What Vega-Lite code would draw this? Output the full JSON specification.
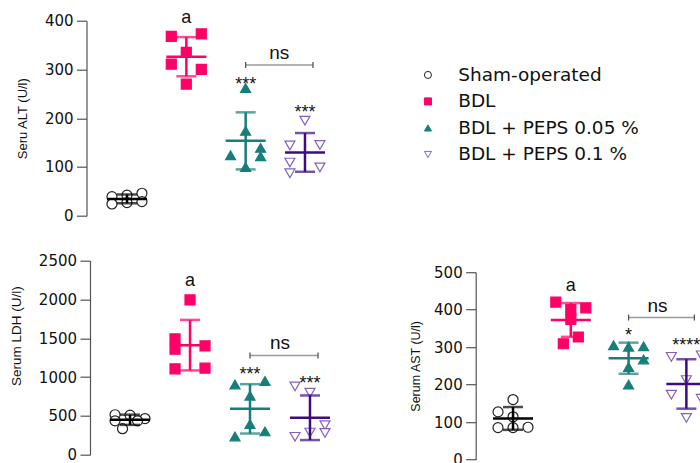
{
  "$schema": "https://vega.github.io/schema/vega-lite/v6.json",
  "padding": {"left": 9, "top": 8.7, "right": 0, "bottom": 0},
  "spacing": 58.7,
  "resolve": {"scale": {"shape": "independent", "fill": "independent", "stroke": "independent", "color": "independent", "xOffset": "independent"}, "legend": {"shape": "independent", "fill": "independent", "stroke": "independent"}},
  "datasets": {
    "pts": [
      {"panel": "ALT", "group": "Sham-operated", "col": -1, "value": 39},
      {"panel": "ALT", "group": "Sham-operated", "col": -1, "value": 24},
      {"panel": "ALT", "group": "Sham-operated", "col": 0, "value": 42},
      {"panel": "ALT", "group": "Sham-operated", "col": 0, "value": 27},
      {"panel": "ALT", "group": "Sham-operated", "col": 1, "value": 46},
      {"panel": "ALT", "group": "Sham-operated", "col": 1, "value": 29},
      {"panel": "ALT", "group": "BDL", "col": -1, "value": 368},
      {"panel": "ALT", "group": "BDL", "col": 1, "value": 373},
      {"panel": "ALT", "group": "BDL", "col": 0, "value": 335},
      {"panel": "ALT", "group": "BDL", "col": -1, "value": 311},
      {"panel": "ALT", "group": "BDL", "col": 1, "value": 300},
      {"panel": "ALT", "group": "BDL", "col": 0, "value": 270},
      {"panel": "ALT", "group": "BDL + PEPS 0.05 %", "col": 0, "value": 262},
      {"panel": "ALT", "group": "BDL + PEPS 0.05 %", "col": 0, "value": 174},
      {"panel": "ALT", "group": "BDL + PEPS 0.05 %", "col": -1, "value": 124},
      {"panel": "ALT", "group": "BDL + PEPS 0.05 %", "col": 1, "value": 139},
      {"panel": "ALT", "group": "BDL + PEPS 0.05 %", "col": 1, "value": 122},
      {"panel": "ALT", "group": "BDL + PEPS 0.05 %", "col": 0, "value": 100},
      {"panel": "ALT", "group": "BDL + PEPS 0.1 %", "col": 0, "value": 195},
      {"panel": "ALT", "group": "BDL + PEPS 0.1 %", "col": -1, "value": 144},
      {"panel": "ALT", "group": "BDL + PEPS 0.1 %", "col": 1, "value": 145},
      {"panel": "ALT", "group": "BDL + PEPS 0.1 %", "col": -1, "value": 109},
      {"panel": "ALT", "group": "BDL + PEPS 0.1 %", "col": 1, "value": 99},
      {"panel": "ALT", "group": "BDL + PEPS 0.1 %", "col": -1, "value": 87},
      {"panel": "LDH", "group": "Sham-operated", "col": -1, "value": 515},
      {"panel": "LDH", "group": "Sham-operated", "col": 0, "value": 510},
      {"panel": "LDH", "group": "Sham-operated", "col": 1, "value": 466},
      {"panel": "LDH", "group": "Sham-operated", "col": 0.5, "value": 437},
      {"panel": "LDH", "group": "Sham-operated", "col": -0.5, "value": 335},
      {"panel": "LDH", "group": "Sham-operated", "col": -1, "value": 437},
      {"panel": "LDH", "group": "BDL", "col": 0, "value": 1994},
      {"panel": "LDH", "group": "BDL", "col": -1, "value": 1492},
      {"panel": "LDH", "group": "BDL", "col": -1, "value": 1360},
      {"panel": "LDH", "group": "BDL", "col": 1, "value": 1402},
      {"panel": "LDH", "group": "BDL", "col": -1, "value": 1106},
      {"panel": "LDH", "group": "BDL", "col": 1, "value": 1115},
      {"panel": "LDH", "group": "BDL + PEPS 0.05 %", "col": -1, "value": 905},
      {"panel": "LDH", "group": "BDL + PEPS 0.05 %", "col": 1, "value": 950},
      {"panel": "LDH", "group": "BDL + PEPS 0.05 %", "col": 0, "value": 760},
      {"panel": "LDH", "group": "BDL + PEPS 0.05 %", "col": 0, "value": 395},
      {"panel": "LDH", "group": "BDL + PEPS 0.05 %", "col": -1, "value": 235},
      {"panel": "LDH", "group": "BDL + PEPS 0.05 %", "col": 1, "value": 300},
      {"panel": "LDH", "group": "BDL + PEPS 0.1 %", "col": -1, "value": 880},
      {"panel": "LDH", "group": "BDL + PEPS 0.1 %", "col": 0, "value": 800},
      {"panel": "LDH", "group": "BDL + PEPS 0.1 %", "col": 1, "value": 380},
      {"panel": "LDH", "group": "BDL + PEPS 0.1 %", "col": 1, "value": 280},
      {"panel": "LDH", "group": "BDL + PEPS 0.1 %", "col": 0, "value": 285},
      {"panel": "LDH", "group": "BDL + PEPS 0.1 %", "col": -1, "value": 230},
      {"panel": "AST", "group": "Sham-operated", "col": 0, "value": 160},
      {"panel": "AST", "group": "Sham-operated", "col": -1, "value": 127},
      {"panel": "AST", "group": "Sham-operated", "col": 0, "value": 114},
      {"panel": "AST", "group": "Sham-operated", "col": -1, "value": 85},
      {"panel": "AST", "group": "Sham-operated", "col": 0, "value": 85},
      {"panel": "AST", "group": "Sham-operated", "col": 1, "value": 86},
      {"panel": "AST", "group": "BDL", "col": -1, "value": 420},
      {"panel": "AST", "group": "BDL", "col": 0, "value": 400},
      {"panel": "AST", "group": "BDL", "col": 1, "value": 405},
      {"panel": "AST", "group": "BDL", "col": 0, "value": 374},
      {"panel": "AST", "group": "BDL", "col": 0.5, "value": 327},
      {"panel": "AST", "group": "BDL", "col": -0.5, "value": 309},
      {"panel": "AST", "group": "BDL + PEPS 0.05 %", "col": -1, "value": 305},
      {"panel": "AST", "group": "BDL + PEPS 0.05 %", "col": 0, "value": 301},
      {"panel": "AST", "group": "BDL + PEPS 0.05 %", "col": 1, "value": 302},
      {"panel": "AST", "group": "BDL + PEPS 0.05 %", "col": 1, "value": 267},
      {"panel": "AST", "group": "BDL + PEPS 0.05 %", "col": 0, "value": 247},
      {"panel": "AST", "group": "BDL + PEPS 0.05 %", "col": 0, "value": 200},
      {"panel": "AST", "group": "BDL + PEPS 0.1 %", "col": -1, "value": 274},
      {"panel": "AST", "group": "BDL + PEPS 0.1 %", "col": 1, "value": 278},
      {"panel": "AST", "group": "BDL + PEPS 0.1 %", "col": 0, "value": 212},
      {"panel": "AST", "group": "BDL + PEPS 0.1 %", "col": -1, "value": 173},
      {"panel": "AST", "group": "BDL + PEPS 0.1 %", "col": 1, "value": 162},
      {"panel": "AST", "group": "BDL + PEPS 0.1 %", "col": 0, "value": 111}
    ],
    "ann": [
      {"panel": "ALT", "kind": "letter", "group": "BDL", "value": 403, "label": "a"},
      {"panel": "ALT", "kind": "stars", "group": "BDL + PEPS 0.05 %", "value": 278, "label": "***"},
      {"panel": "ALT", "kind": "stars", "group": "BDL + PEPS 0.1 %", "value": 220, "label": "***"},
      {"panel": "ALT", "kind": "ns", "group": "BDL + PEPS 0.05 %", "value": 330, "label": "ns"},
      {"panel": "ALT", "kind": "bracket", "group": "BDL + PEPS 0.05 %", "group2": "BDL + PEPS 0.1 %", "value": 309},
      {"panel": "LDH", "kind": "letter", "group": "BDL", "value": 2217, "label": "a"},
      {"panel": "LDH", "kind": "stars", "group": "BDL + PEPS 0.05 %", "value": 1081, "label": "***"},
      {"panel": "LDH", "kind": "stars", "group": "BDL + PEPS 0.1 %", "value": 965, "label": "***"},
      {"panel": "LDH", "kind": "ns", "group": "BDL + PEPS 0.05 %", "value": 1415, "label": "ns"},
      {"panel": "LDH", "kind": "bracket", "group": "BDL + PEPS 0.05 %", "group2": "BDL + PEPS 0.1 %", "value": 1278},
      {"panel": "AST", "kind": "letter", "group": "BDL", "value": 458, "label": "a"},
      {"panel": "AST", "kind": "stars", "group": "BDL + PEPS 0.05 %", "value": 342, "label": "*"},
      {"panel": "AST", "kind": "stars", "group": "BDL + PEPS 0.1 %", "value": 316, "label": "****"},
      {"panel": "AST", "kind": "ns", "group": "BDL + PEPS 0.05 %", "value": 407, "label": "ns"},
      {"panel": "AST", "kind": "bracket", "group": "BDL + PEPS 0.05 %", "group2": "BDL + PEPS 0.1 %", "value": 379}
    ]
  },
  "hconcat": [
    {
      "bounds": "flush",
      "spacing": 45,
      "resolve": {"scale": {"shape": "independent", "fill": "independent", "stroke": "independent", "color": "independent", "xOffset": "independent"}, "legend": {"shape": "independent", "fill": "independent", "stroke": "independent"}},
      "vconcat": [
        {
          "width": 252,
          "height": 195,
          "layer": [
            {
              "data": {"name": "pts"},
              "transform": [{"filter": "datum.panel === 'ALT'"}],
              "mark": {"type": "point", "opacity": 1, "strokeWidth": 1.2, "size": 100},
              "encoding": {
                "x": {"field": "group", "type": "nominal", "scale": {"domain": ["Sham-operated", "BDL", "BDL + PEPS 0.05 %", "BDL + PEPS 0.1 %"], "paddingInner": 0, "paddingOuter": 0.124}, "axis": null},
                "xOffset": {"field": "col", "type": "ordinal", "scale": {"type": "point", "domain": [-1, -0.5, 0, 0.5, 1], "range": [14.6, 44.6], "padding": 0}},
                "y": {"field": "value", "type": "quantitative", "title": "Seru ALT (U/l)", "scale": {"domain": [0, 400], "nice": false}, "axis": {"values": [0, 100, 200, 300, 400], "tickCount": 5, "format": "d", "offset": 3.5, "titlePadding": 15, "titleFontSize": 13}},
                "shape": {"field": "group", "type": "nominal", "legend": null, "scale": {"domain": ["Sham-operated", "BDL", "BDL + PEPS 0.05 %", "BDL + PEPS 0.1 %"], "range": ["circle", "square", "triangle-up", "triangle-down"]}},
                "fill": {"field": "group", "type": "nominal", "legend": null, "scale": {"domain": ["Sham-operated", "BDL", "BDL + PEPS 0.05 %", "BDL + PEPS 0.1 %"], "range": ["#ffffff", "#FF0066", "#177E7A", "#ffffff"]}},
                "stroke": {"field": "group", "type": "nominal", "legend": null, "scale": {"domain": ["Sham-operated", "BDL", "BDL + PEPS 0.05 %", "BDL + PEPS 0.1 %"], "range": ["#222222", "#FF0066", "#177E7A", "#8460C4"]}}
              }
            },
            {
              "data": {"name": "pts"},
              "transform": [{"filter": "datum.panel === 'ALT'"}],
              "mark": {"type": "errorbar", "extent": "stdev", "thickness": 2.5, "ticks": {"size": 20}},
              "encoding": {
                "x": {"field": "group", "type": "nominal", "axis": null},
                "y": {"field": "value", "type": "quantitative", "title": "Seru ALT (U/l)", "axis": {"values": [0, 100, 200, 300, 400], "tickCount": 5, "format": "d", "offset": 3.5, "titlePadding": 15, "titleFontSize": 13}},
                "color": {"field": "group", "type": "nominal", "legend": null, "scale": {"domain": ["Sham-operated", "BDL", "BDL + PEPS 0.05 %", "BDL + PEPS 0.1 %"], "range": ["#000000", "#FF0066", "#177E7A", "#3D0C7E"]}}
              }
            },
            {
              "data": {"name": "pts"},
              "transform": [{"filter": "datum.panel === 'ALT'"}],
              "mark": {"type": "tick", "thickness": 2.5, "size": 40, "opacity": 1},
              "encoding": {
                "x": {"field": "group", "type": "nominal", "axis": null},
                "y": {"aggregate": "mean", "field": "value", "type": "quantitative", "title": "Seru ALT (U/l)", "axis": {"values": [0, 100, 200, 300, 400], "tickCount": 5, "format": "d", "offset": 3.5, "titlePadding": 15, "titleFontSize": 13}},
                "color": {"field": "group", "type": "nominal", "legend": null}
              }
            },
            {
              "data": {"name": "ann"},
              "transform": [{"filter": "datum.panel === 'ALT' && datum.kind === 'bracket'"}],
              "mark": {"type": "rule", "color": "#9a9a9a", "strokeWidth": 1.5, "x2Offset": 8},
              "encoding": {
                "x": {"field": "group", "type": "nominal", "bandPosition": 0.5, "axis": null},
                "x2": {"field": "group2", "bandPosition": 0.5},
                "y": {"field": "value", "type": "quantitative", "title": "Seru ALT (U/l)", "axis": {"values": [0, 100, 200, 300, 400], "tickCount": 5, "format": "d", "offset": 3.5, "titlePadding": 15, "titleFontSize": 13}}
              }
            },
            {
              "data": {"name": "ann"},
              "transform": [{"filter": "datum.panel === 'ALT' && datum.kind === 'bracket'"}],
              "mark": {"type": "tick", "orient": "vertical", "color": "#555555", "thickness": 1.3, "size": 6, "opacity": 1},
              "encoding": {
                "x": {"field": "group", "type": "nominal", "axis": null},
                "y": {"field": "value", "type": "quantitative", "title": "Seru ALT (U/l)", "axis": {"values": [0, 100, 200, 300, 400], "tickCount": 5, "format": "d", "offset": 3.5, "titlePadding": 15, "titleFontSize": 13}}
              }
            },
            {
              "data": {"name": "ann"},
              "transform": [{"filter": "datum.panel === 'ALT' && datum.kind === 'bracket'"}],
              "mark": {"type": "tick", "orient": "vertical", "color": "#555555", "thickness": 1.3, "size": 6, "opacity": 1, "xOffset": 8},
              "encoding": {
                "x": {"field": "group2", "type": "nominal", "axis": null},
                "y": {"field": "value", "type": "quantitative", "title": "Seru ALT (U/l)", "axis": {"values": [0, 100, 200, 300, 400], "tickCount": 5, "format": "d", "offset": 3.5, "titlePadding": 15, "titleFontSize": 13}}
              }
            },
            {
              "data": {"name": "ann"},
              "transform": [{"filter": "datum.panel === 'ALT' && datum.kind === 'letter'"}],
              "mark": {"type": "text", "font": "Liberation Sans", "fontSize": 18, "baseline": "middle", "dy": -1.5, "color": "#111111"},
              "encoding": {
                "x": {"field": "group", "type": "nominal", "axis": null},
                "y": {"field": "value", "type": "quantitative", "title": "Seru ALT (U/l)", "axis": {"values": [0, 100, 200, 300, 400], "tickCount": 5, "format": "d", "offset": 3.5, "titlePadding": 15, "titleFontSize": 13}},
                "text": {"field": "label"}
              }
            },
            {
              "data": {"name": "ann"},
              "transform": [{"filter": "datum.panel === 'ALT' && datum.kind === 'ns'"}],
              "mark": {"type": "text", "font": "Liberation Sans", "fontSize": 19, "baseline": "middle", "dy": -1.5, "dx": 4, "color": "#111111"},
              "encoding": {
                "x": {"field": "group", "type": "nominal", "bandPosition": 1, "axis": null},
                "y": {"field": "value", "type": "quantitative", "title": "Seru ALT (U/l)", "axis": {"values": [0, 100, 200, 300, 400], "tickCount": 5, "format": "d", "offset": 3.5, "titlePadding": 15, "titleFontSize": 13}},
                "text": {"field": "label"}
              }
            },
            {
              "data": {"name": "ann"},
              "transform": [{"filter": "datum.panel === 'ALT' && datum.kind === 'stars'"}],
              "mark": {"type": "text", "font": "Liberation Sans", "fontSize": 18, "baseline": "middle", "dy": 4.5, "color": "#111111"},
              "encoding": {
                "x": {"field": "group", "type": "nominal", "axis": null},
                "y": {"field": "value", "type": "quantitative", "title": "Seru ALT (U/l)", "axis": {"values": [0, 100, 200, 300, 400], "tickCount": 5, "format": "d", "offset": 3.5, "titlePadding": 15, "titleFontSize": 13}},
                "text": {"field": "label"}
              }
            }
          ]
        },
        {
          "width": 260,
          "height": 194,
          "layer": [
            {
              "data": {"name": "pts"},
              "transform": [{"filter": "datum.panel === 'LDH'"}],
              "mark": {"type": "point", "opacity": 1, "strokeWidth": 1.2, "size": 100},
              "encoding": {
                "x": {"field": "group", "type": "nominal", "scale": {"domain": ["Sham-operated", "BDL", "BDL + PEPS 0.05 %", "BDL + PEPS 0.1 %"], "paddingInner": 0, "paddingOuter": 0.167}, "axis": null},
                "xOffset": {"field": "col", "type": "ordinal", "scale": {"type": "point", "domain": [-1, -0.5, 0, 0.5, 1], "range": [15, 45], "padding": 0}},
                "y": {"field": "value", "type": "quantitative", "title": "Serum LDH (U/l)", "scale": {"domain": [0, 2500], "nice": false}, "axis": {"values": [0, 500, 1000, 1500, 2000, 2500], "tickCount": 6, "format": "d", "titlePadding": 15, "titleFontSize": 13.5, "titleY": 75}},
                "shape": {"field": "group", "type": "nominal", "legend": null, "scale": {"domain": ["Sham-operated", "BDL", "BDL + PEPS 0.05 %", "BDL + PEPS 0.1 %"], "range": ["circle", "square", "triangle-up", "triangle-down"]}},
                "fill": {"field": "group", "type": "nominal", "legend": null, "scale": {"domain": ["Sham-operated", "BDL", "BDL + PEPS 0.05 %", "BDL + PEPS 0.1 %"], "range": ["#ffffff", "#FF0066", "#177E7A", "#ffffff"]}},
                "stroke": {"field": "group", "type": "nominal", "legend": null, "scale": {"domain": ["Sham-operated", "BDL", "BDL + PEPS 0.05 %", "BDL + PEPS 0.1 %"], "range": ["#222222", "#FF0066", "#177E7A", "#8460C4"]}}
              }
            },
            {
              "data": {"name": "pts"},
              "transform": [{"filter": "datum.panel === 'LDH'"}],
              "mark": {"type": "errorbar", "extent": "stdev", "thickness": 2.5, "ticks": {"size": 20}},
              "encoding": {
                "x": {"field": "group", "type": "nominal", "axis": null},
                "y": {"field": "value", "type": "quantitative", "title": "Serum LDH (U/l)", "axis": {"values": [0, 500, 1000, 1500, 2000, 2500], "tickCount": 6, "format": "d", "titlePadding": 15, "titleFontSize": 13.5, "titleY": 75}},
                "color": {"field": "group", "type": "nominal", "legend": null, "scale": {"domain": ["Sham-operated", "BDL", "BDL + PEPS 0.05 %", "BDL + PEPS 0.1 %"], "range": ["#000000", "#FF0066", "#177E7A", "#3D0C7E"]}}
              }
            },
            {
              "data": {"name": "pts"},
              "transform": [{"filter": "datum.panel === 'LDH'"}],
              "mark": {"type": "tick", "thickness": 2.5, "size": 40, "opacity": 1},
              "encoding": {
                "x": {"field": "group", "type": "nominal", "axis": null},
                "y": {"aggregate": "mean", "field": "value", "type": "quantitative", "title": "Serum LDH (U/l)", "axis": {"values": [0, 500, 1000, 1500, 2000, 2500], "tickCount": 6, "format": "d", "titlePadding": 15, "titleFontSize": 13.5, "titleY": 75}},
                "color": {"field": "group", "type": "nominal", "legend": null}
              }
            },
            {
              "data": {"name": "ann"},
              "transform": [{"filter": "datum.panel === 'LDH' && datum.kind === 'bracket'"}],
              "mark": {"type": "rule", "color": "#9a9a9a", "strokeWidth": 1.5, "x2Offset": 8},
              "encoding": {
                "x": {"field": "group", "type": "nominal", "bandPosition": 0.5, "axis": null},
                "x2": {"field": "group2", "bandPosition": 0.5},
                "y": {"field": "value", "type": "quantitative", "title": "Serum LDH (U/l)", "axis": {"values": [0, 500, 1000, 1500, 2000, 2500], "tickCount": 6, "format": "d", "titlePadding": 15, "titleFontSize": 13.5, "titleY": 75}}
              }
            },
            {
              "data": {"name": "ann"},
              "transform": [{"filter": "datum.panel === 'LDH' && datum.kind === 'bracket'"}],
              "mark": {"type": "tick", "orient": "vertical", "color": "#555555", "thickness": 1.3, "size": 6, "opacity": 1},
              "encoding": {
                "x": {"field": "group", "type": "nominal", "axis": null},
                "y": {"field": "value", "type": "quantitative", "title": "Serum LDH (U/l)", "axis": {"values": [0, 500, 1000, 1500, 2000, 2500], "tickCount": 6, "format": "d", "titlePadding": 15, "titleFontSize": 13.5, "titleY": 75}}
              }
            },
            {
              "data": {"name": "ann"},
              "transform": [{"filter": "datum.panel === 'LDH' && datum.kind === 'bracket'"}],
              "mark": {"type": "tick", "orient": "vertical", "color": "#555555", "thickness": 1.3, "size": 6, "opacity": 1, "xOffset": 8},
              "encoding": {
                "x": {"field": "group2", "type": "nominal", "axis": null},
                "y": {"field": "value", "type": "quantitative", "title": "Serum LDH (U/l)", "axis": {"values": [0, 500, 1000, 1500, 2000, 2500], "tickCount": 6, "format": "d", "titlePadding": 15, "titleFontSize": 13.5, "titleY": 75}}
              }
            },
            {
              "data": {"name": "ann"},
              "transform": [{"filter": "datum.panel === 'LDH' && datum.kind === 'letter'"}],
              "mark": {"type": "text", "font": "Liberation Sans", "fontSize": 18, "baseline": "middle", "dy": -1.5, "color": "#111111"},
              "encoding": {
                "x": {"field": "group", "type": "nominal", "axis": null},
                "y": {"field": "value", "type": "quantitative", "title": "Serum LDH (U/l)", "axis": {"values": [0, 500, 1000, 1500, 2000, 2500], "tickCount": 6, "format": "d", "titlePadding": 15, "titleFontSize": 13.5, "titleY": 75}},
                "text": {"field": "label"}
              }
            },
            {
              "data": {"name": "ann"},
              "transform": [{"filter": "datum.panel === 'LDH' && datum.kind === 'ns'"}],
              "mark": {"type": "text", "font": "Liberation Sans", "fontSize": 19, "baseline": "middle", "dy": -1.5, "color": "#111111"},
              "encoding": {
                "x": {"field": "group", "type": "nominal", "bandPosition": 1, "axis": null},
                "y": {"field": "value", "type": "quantitative", "title": "Serum LDH (U/l)", "axis": {"values": [0, 500, 1000, 1500, 2000, 2500], "tickCount": 6, "format": "d", "titlePadding": 15, "titleFontSize": 13.5, "titleY": 75}},
                "text": {"field": "label"}
              }
            },
            {
              "data": {"name": "ann"},
              "transform": [{"filter": "datum.panel === 'LDH' && datum.kind === 'stars'"}],
              "mark": {"type": "text", "font": "Liberation Sans", "fontSize": 18, "baseline": "middle", "dy": 4.5, "color": "#111111"},
              "encoding": {
                "x": {"field": "group", "type": "nominal", "axis": null},
                "y": {"field": "value", "type": "quantitative", "title": "Serum LDH (U/l)", "axis": {"values": [0, 500, 1000, 1500, 2000, 2500], "tickCount": 6, "format": "d", "titlePadding": 15, "titleFontSize": 13.5, "titleY": 75}},
                "text": {"field": "label"}
              }
            }
          ]
        }
      ]
    },
    {
      "bounds": "flush",
      "spacing": 19.5,
      "resolve": {"scale": {"shape": "independent", "fill": "independent", "stroke": "independent", "color": "independent", "xOffset": "independent"}, "legend": {"shape": "independent", "fill": "independent", "stroke": "independent"}},
      "vconcat": [
        {
          "width": 10,
          "height": 232,
          "data": {"name": "pts"},
          "transform": [{"filter": "false"}],
          "mark": {"type": "point", "opacity": 1, "strokeWidth": 1},
          "encoding": {
            "shape": {"field": "group", "type": "nominal", "scale": {"domain": ["Sham-operated", "BDL", "BDL + PEPS 0.05 %", "BDL + PEPS 0.1 %"], "range": ["circle", "square", "triangle-up", "triangle-down"]}, "legend": {"title": null, "orient": "none", "legendX": -57, "legendY": 45}},
            "fill": {"field": "group", "type": "nominal", "scale": {"domain": ["Sham-operated", "BDL", "BDL + PEPS 0.05 %", "BDL + PEPS 0.1 %"], "range": ["#ffffff", "#FF0066", "#177E7A", "#ffffff"]}, "legend": {"title": null, "orient": "none", "legendX": -57, "legendY": 45}},
            "stroke": {"field": "group", "type": "nominal", "scale": {"domain": ["Sham-operated", "BDL", "BDL + PEPS 0.05 %", "BDL + PEPS 0.1 %"], "range": ["#222222", "#FF0066", "#177E7A", "#8460C4"]}, "legend": {"title": null, "orient": "none", "legendX": -57, "legendY": 45}}
          }
        },
        {
          "width": 248,
          "height": 187.3,
          "layer": [
            {
              "data": {"name": "pts"},
              "transform": [{"filter": "datum.panel === 'AST'"}],
              "mark": {"type": "point", "opacity": 1, "strokeWidth": 1.2, "size": 100},
              "encoding": {
                "x": {"field": "group", "type": "nominal", "scale": {"domain": ["Sham-operated", "BDL", "BDL + PEPS 0.05 %", "BDL + PEPS 0.1 %"], "paddingInner": 0, "paddingOuter": 0.146}, "axis": null},
                "xOffset": {"field": "col", "type": "ordinal", "scale": {"type": "point", "domain": [-1, -0.5, 0, 0.5, 1], "range": [13.9, 43.9], "padding": 0}},
                "y": {"field": "value", "type": "quantitative", "title": "Serum AST (U/l)", "scale": {"domain": [0, 500], "nice": false}, "axis": {"values": [0, 100, 200, 300, 400, 500], "tickCount": 6, "format": "d", "titlePadding": 11, "titleFontSize": 12.5}},
                "shape": {"field": "group", "type": "nominal", "legend": null, "scale": {"domain": ["Sham-operated", "BDL", "BDL + PEPS 0.05 %", "BDL + PEPS 0.1 %"], "range": ["circle", "square", "triangle-up", "triangle-down"]}},
                "fill": {"field": "group", "type": "nominal", "legend": null, "scale": {"domain": ["Sham-operated", "BDL", "BDL + PEPS 0.05 %", "BDL + PEPS 0.1 %"], "range": ["#ffffff", "#FF0066", "#177E7A", "#ffffff"]}},
                "stroke": {"field": "group", "type": "nominal", "legend": null, "scale": {"domain": ["Sham-operated", "BDL", "BDL + PEPS 0.05 %", "BDL + PEPS 0.1 %"], "range": ["#222222", "#FF0066", "#177E7A", "#8460C4"]}}
              }
            },
            {
              "data": {"name": "pts"},
              "transform": [{"filter": "datum.panel === 'AST'"}],
              "mark": {"type": "errorbar", "extent": "stdev", "thickness": 2.5, "ticks": {"size": 20}},
              "encoding": {
                "x": {"field": "group", "type": "nominal", "axis": null},
                "y": {"field": "value", "type": "quantitative", "title": "Serum AST (U/l)", "axis": {"values": [0, 100, 200, 300, 400, 500], "tickCount": 6, "format": "d", "titlePadding": 11, "titleFontSize": 12.5}},
                "color": {"field": "group", "type": "nominal", "legend": null, "scale": {"domain": ["Sham-operated", "BDL", "BDL + PEPS 0.05 %", "BDL + PEPS 0.1 %"], "range": ["#000000", "#FF0066", "#177E7A", "#3D0C7E"]}}
              }
            },
            {
              "data": {"name": "pts"},
              "transform": [{"filter": "datum.panel === 'AST'"}],
              "mark": {"type": "tick", "thickness": 2.5, "size": 40, "opacity": 1},
              "encoding": {
                "x": {"field": "group", "type": "nominal", "axis": null},
                "y": {"aggregate": "mean", "field": "value", "type": "quantitative", "title": "Serum AST (U/l)", "axis": {"values": [0, 100, 200, 300, 400, 500], "tickCount": 6, "format": "d", "titlePadding": 11, "titleFontSize": 12.5}},
                "color": {"field": "group", "type": "nominal", "legend": null}
              }
            },
            {
              "data": {"name": "ann"},
              "transform": [{"filter": "datum.panel === 'AST' && datum.kind === 'bracket'"}],
              "mark": {"type": "rule", "color": "#9a9a9a", "strokeWidth": 1.5, "x2Offset": 8},
              "encoding": {
                "x": {"field": "group", "type": "nominal", "bandPosition": 0.5, "axis": null},
                "x2": {"field": "group2", "bandPosition": 0.5},
                "y": {"field": "value", "type": "quantitative", "title": "Serum AST (U/l)", "axis": {"values": [0, 100, 200, 300, 400, 500], "tickCount": 6, "format": "d", "titlePadding": 11, "titleFontSize": 12.5}}
              }
            },
            {
              "data": {"name": "ann"},
              "transform": [{"filter": "datum.panel === 'AST' && datum.kind === 'bracket'"}],
              "mark": {"type": "tick", "orient": "vertical", "color": "#555555", "thickness": 1.3, "size": 6, "opacity": 1},
              "encoding": {
                "x": {"field": "group", "type": "nominal", "axis": null},
                "y": {"field": "value", "type": "quantitative", "title": "Serum AST (U/l)", "axis": {"values": [0, 100, 200, 300, 400, 500], "tickCount": 6, "format": "d", "titlePadding": 11, "titleFontSize": 12.5}}
              }
            },
            {
              "data": {"name": "ann"},
              "transform": [{"filter": "datum.panel === 'AST' && datum.kind === 'bracket'"}],
              "mark": {"type": "tick", "orient": "vertical", "color": "#555555", "thickness": 1.3, "size": 6, "opacity": 1, "xOffset": 8},
              "encoding": {
                "x": {"field": "group2", "type": "nominal", "axis": null},
                "y": {"field": "value", "type": "quantitative", "title": "Serum AST (U/l)", "axis": {"values": [0, 100, 200, 300, 400, 500], "tickCount": 6, "format": "d", "titlePadding": 11, "titleFontSize": 12.5}}
              }
            },
            {
              "data": {"name": "ann"},
              "transform": [{"filter": "datum.panel === 'AST' && datum.kind === 'letter'"}],
              "mark": {"type": "text", "font": "Liberation Sans", "fontSize": 18, "baseline": "middle", "dy": -1.5, "color": "#111111"},
              "encoding": {
                "x": {"field": "group", "type": "nominal", "axis": null},
                "y": {"field": "value", "type": "quantitative", "title": "Serum AST (U/l)", "axis": {"values": [0, 100, 200, 300, 400, 500], "tickCount": 6, "format": "d", "titlePadding": 11, "titleFontSize": 12.5}},
                "text": {"field": "label"}
              }
            },
            {
              "data": {"name": "ann"},
              "transform": [{"filter": "datum.panel === 'AST' && datum.kind === 'ns'"}],
              "mark": {"type": "text", "font": "Liberation Sans", "fontSize": 19, "baseline": "middle", "dy": -1.5, "color": "#111111"},
              "encoding": {
                "x": {"field": "group", "type": "nominal", "bandPosition": 1, "axis": null},
                "y": {"field": "value", "type": "quantitative", "title": "Serum AST (U/l)", "axis": {"values": [0, 100, 200, 300, 400, 500], "tickCount": 6, "format": "d", "titlePadding": 11, "titleFontSize": 12.5}},
                "text": {"field": "label"}
              }
            },
            {
              "data": {"name": "ann"},
              "transform": [{"filter": "datum.panel === 'AST' && datum.kind === 'stars'"}],
              "mark": {"type": "text", "font": "Liberation Sans", "fontSize": 18, "baseline": "middle", "dy": 4.5, "color": "#111111"},
              "encoding": {
                "x": {"field": "group", "type": "nominal", "axis": null},
                "y": {"field": "value", "type": "quantitative", "title": "Serum AST (U/l)", "axis": {"values": [0, 100, 200, 300, 400, 500], "tickCount": 6, "format": "d", "titlePadding": 11, "titleFontSize": 12.5}},
                "text": {"field": "label"}
              }
            }
          ]
        }
      ]
    }
  ],
  "config": {
    "view": {"stroke": null},
    "axis": {
      "grid": false,
      "labelOverlap": false,
      "domainColor": "#555555",
      "domainWidth": 1.2,
      "tickColor": "#555555",
      "tickWidth": 1.2,
      "tickSize": 10,
      "labelPadding": 3.5,
      "labelFont": "DejaVu Sans",
      "labelFontSize": 15,
      "labelColor": "#111111",
      "titleFont": "Liberation Sans",
      "titleFontWeight": "normal",
      "titleColor": "#111111"
    },
    "legend": {
      "padding": 0,
      "labelFont": "DejaVu Sans",
      "labelFontSize": 18.5,
      "labelColor": "#111111",
      "labelLimit": 400,
      "symbolSize": 50,
      "symbolStrokeWidth": 1,
      "rowPadding": 7.5,
      "labelOffset": 21
    }
  }
}
